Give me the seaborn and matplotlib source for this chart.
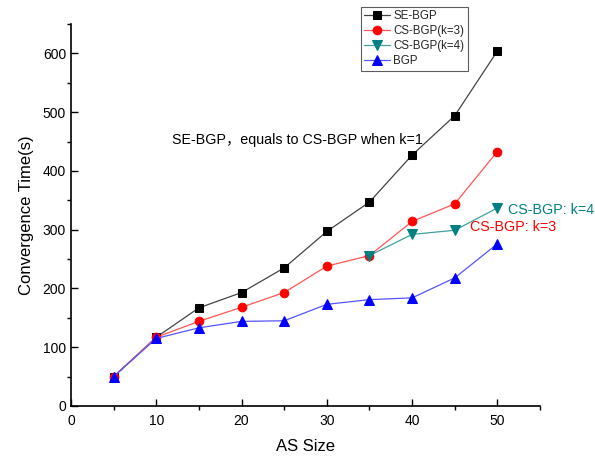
import matplotlib
matplotlib.use("Agg")
import matplotlib.pyplot as plt
import seaborn as sns
import pandas as pd
from matplotlib.ticker import MultipleLocator

sns.set_theme(style="white")
plt.rcParams['font.family'] = ['Liberation Sans', 'Noto Sans CJK SC', 'DejaVu Sans']

as_size = [5, 10, 15, 20, 25, 30, 35, 40, 45, 50]
se_bgp = [50, 117, 167, 193, 235, 297, 347, 427, 494, 604]
cs_bgp_k3 = [50, 117, 144, 168, 193, 238, 256, 314, 344, 433]
cs_bgp_k4_x = [35, 40, 45, 50]
cs_bgp_k4 = [256, 292, 299, 337]
bgp = [50, 115, 133, 144, 145, 173, 181, 184, 218, 276]

labels = ["SE-BGP", "CS-BGP(k=3)", "CS-BGP(k=4)", "BGP"]

fig = plt.figure(figsize=(5.95, 4.57), dpi=100)
ax = fig.add_axes([0.1193, 0.1116, 0.7883, 0.8359])

series = [
    (as_size, se_bgp, labels[0], 's', '#000000', '#444444', 5.3),
    (as_size, cs_bgp_k3, labels[1], 'o', '#ff0000', '#ff5555', 6.2),
    (cs_bgp_k4_x, cs_bgp_k4, labels[2], 'v', '#008080', '#40a0a0', 7),
    (as_size, bgp, labels[3], '^', '#0000ff', '#5555ff', 7),
]
for xs, ys, lab, mk, mc, lc, ms in series:
    df = pd.DataFrame({"x": xs, "y": ys})
    sns.lineplot(data=df, x="x", y="y", ax=ax, color=lc, linewidth=0.9,
                 marker=mk, markersize=ms, markerfacecolor=mc,
                 markeredgecolor=mc, label=lab)

ax.set_xlim(0, 55)
ax.set_ylim(0, 650)
ax.xaxis.set_minor_locator(MultipleLocator(5))
ax.yaxis.set_minor_locator(MultipleLocator(50))
ax.set_xticks([0, 10, 20, 30, 40, 50])
ax.set_yticks([0, 100, 200, 300, 400, 500, 600])
ax.tick_params(which='major', direction='in', length=5, width=1, colors='black',
               labelsize=10, bottom=True, left=True)
ax.tick_params(which='minor', direction='out', length=3, width=1, colors='black',
               bottom=True, left=True)
ax.tick_params(axis='x', which='major', pad=6)
for s in ['top', 'right']:
    ax.spines[s].set_visible(False)
for s in ['left', 'bottom']:
    ax.spines[s].set_color('black')
    ax.spines[s].set_linewidth(1.2)

ax.set_xlabel("AS Size", fontsize=12, color='black', labelpad=8)
ax.set_ylabel("Convergence Time(s)", fontsize=12, color='black', labelpad=6)

ax.text(11.8, 453, "SE-BGP，equals to CS-BGP when k=1", fontsize=10.3,
        color='black', va='center', ha='left')
ax.text(46.8, 305, "CS-BGP: k=3", fontsize=10.3, color='#ff0000', va='center', ha='left')
ax.text(51.3, 334, "CS-BGP: k=4", fontsize=10.3, color='#008080', va='center', ha='left',
        clip_on=False)

ax.get_legend().remove()
handles, labs = ax.get_legend_handles_labels()
leg = fig.legend(handles, labs, loc='upper left',
                 bbox_to_anchor=(361 / 595, 1 - 7 / 457), fontsize=8.3,
                 frameon=True, fancybox=False, edgecolor='#333333',
                 handlelength=2.2, handletextpad=0.3, borderpad=0.3,
                 labelspacing=0.25, borderaxespad=0)
leg.get_frame().set_linewidth(0.8)

fig.savefig("out.png", dpi=100)
